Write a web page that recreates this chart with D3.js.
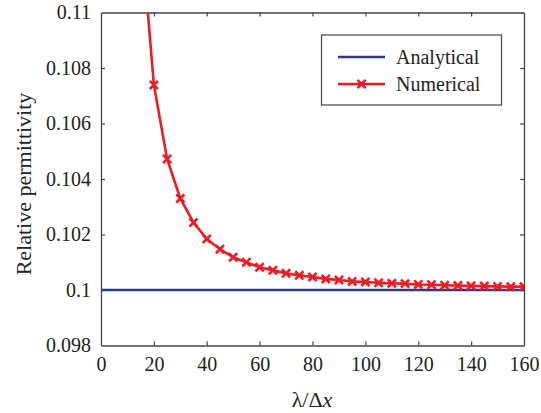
<!DOCTYPE html>
<html><head><meta charset="utf-8">
<script src="https://cdn.jsdelivr.net/npm/d3@7"></script>
<style>body{margin:0;background:#fff}</style>
</head><body><svg id="c" width="541" height="413"></svg>
<script>
const xTicks = [0,20,40,60,80,100,120,140,160];
const yTicks = [0.098,0.1,0.102,0.104,0.106,0.108,0.11];
const yTickLabels = ["0.098","0.1","0.102","0.104","0.106","0.108","0.11"];
const lambdaDx = [15,20,25,30,35,40,45,50,55,60,65,70,75,80,85,90,95,100,105,110,115,120,125,130,135,140,145,150,155,160];
const numerical = [0.1131,0.10739,0.10472,0.10330,0.10243,0.10184,0.10147,0.10118,0.10100,0.10082,0.10071,0.10060,0.10053,0.10047,0.10040,0.10036,0.10031,0.10029,0.10026,0.10024,0.10023,0.10020,0.10019,0.10017,0.10016,0.10015,0.10014,0.10013,0.10012,0.10012];
const analyticalX = [0,160];
const analytical = [0.1,0.1];

const svg = d3.select("#c");
const L=101,R=524,T=12.5,B=345.5;
const x = d3.scaleLinear().domain([0,160]).range([L,R]);
const y = d3.scaleLinear().domain([0.098,0.11]).range([B,T]);
const FF = '"Liberation Serif"';
const axisColor = "#444";

svg.append("defs").append("clipPath").attr("id","clip")
  .append("rect").attr("x",L).attr("y",T).attr("width",R-L).attr("height",B-T);

const gB = svg.append("g").attr("transform",`translate(0,${B})`)
  .call(d3.axisBottom(x).tickValues(xTicks).tickSizeInner(-4).tickSizeOuter(0).tickPadding(11));
const gT = svg.append("g").attr("transform",`translate(0,${T})`)
  .call(d3.axisTop(x).tickValues(xTicks).tickSizeInner(-4).tickSizeOuter(0).tickFormat(""));
const gL = svg.append("g").attr("transform",`translate(${L},0)`)
  .call(d3.axisLeft(y).tickValues(yTicks).tickSizeInner(-4).tickSizeOuter(0).tickPadding(10)
    .tickFormat((d,i)=>yTickLabels[i]));
const gR = svg.append("g").attr("transform",`translate(${R},0)`)
  .call(d3.axisRight(y).tickValues(yTicks).tickSizeInner(-4).tickSizeOuter(0).tickFormat(""));
[gB,gT,gL,gR].forEach(g=>{
  g.attr("font-family","Liberation Serif").attr("font-size",20);
  g.select(".domain").attr("stroke",axisColor).attr("stroke-width",1.3);
  g.selectAll(".tick line").attr("stroke",axisColor).attr("stroke-width",1.2);
  g.selectAll(".tick text").attr("fill","#222").style("font-family",FF);
});
gT.selectAll(".tick").filter(d=>d===0||d===160).remove();
gB.selectAll(".tick line").filter(d=>d===0||d===160).remove();
gL.selectAll(".tick line").filter(d=>d===0.098||d===0.11).remove();
gR.selectAll(".tick").filter(d=>d===0.098||d===0.11).remove();

const plot = svg.append("g").attr("clip-path","url(#clip)");
plot.append("path")
  .datum(analyticalX.map((d,i)=>[d,analytical[i]]))
  .attr("d",d3.line().x(d=>x(d[0])).y(d=>y(d[1])))
  .attr("fill","none").attr("stroke","#2B3990").attr("stroke-width",2.6);
const numData = lambdaDx.map((d,i)=>[d,numerical[i]]);
plot.append("path").datum(numData)
  .attr("d",d3.line().x(d=>x(d[0])).y(d=>y(d[1])))
  .attr("fill","none").attr("stroke","#ED1C24").attr("stroke-width",2.6);
const cross = d3.symbol().type(d3.symbolX).size(45);
plot.selectAll("path.m").data(numData).join("path").attr("class","m")
  .attr("d",cross).attr("transform",d=>`translate(${x(d[0])},${y(d[1])})`)
  .attr("fill","none").attr("stroke","#ED1C24").attr("stroke-width",2.6);

const lg = svg.append("g");
lg.append("rect").attr("x",321.5).attr("y",35).attr("width",180).attr("height",70)
  .attr("fill","#fff").attr("stroke",axisColor).attr("stroke-width",1.2);
lg.append("line").attr("x1",338).attr("x2",385).attr("y1",57).attr("y2",57)
  .attr("stroke","#2B3990").attr("stroke-width",2.6);
lg.append("line").attr("x1",338).attr("x2",385).attr("y1",84).attr("y2",84)
  .attr("stroke","#ED1C24").attr("stroke-width",2.6);
lg.append("path").attr("d",cross).attr("transform","translate(361.5,84)")
  .attr("fill","none").attr("stroke","#ED1C24").attr("stroke-width",2.6);
lg.append("text").attr("x",396).attr("y",63.5).attr("font-size",20).style("font-family",FF).attr("fill","#222").text("Analytical");
lg.append("text").attr("x",396).attr("y",91).attr("font-size",20).style("font-family",FF).attr("fill","#222").text("Numerical");

const xt = svg.append("text").attr("x",312).attr("y",407).attr("text-anchor","middle")
  .attr("font-size",22).style("font-family",FF).attr("fill","#222");
xt.append("tspan").text("λ/Δ");
xt.append("tspan").attr("font-style","italic").text("x");
svg.append("text").attr("transform",`translate(31,184) rotate(-90)`)
  .attr("text-anchor","middle").attr("font-size",22).style("font-family",FF).attr("fill","#222")
  .text("Relative permittivity");
</script></body></html>
